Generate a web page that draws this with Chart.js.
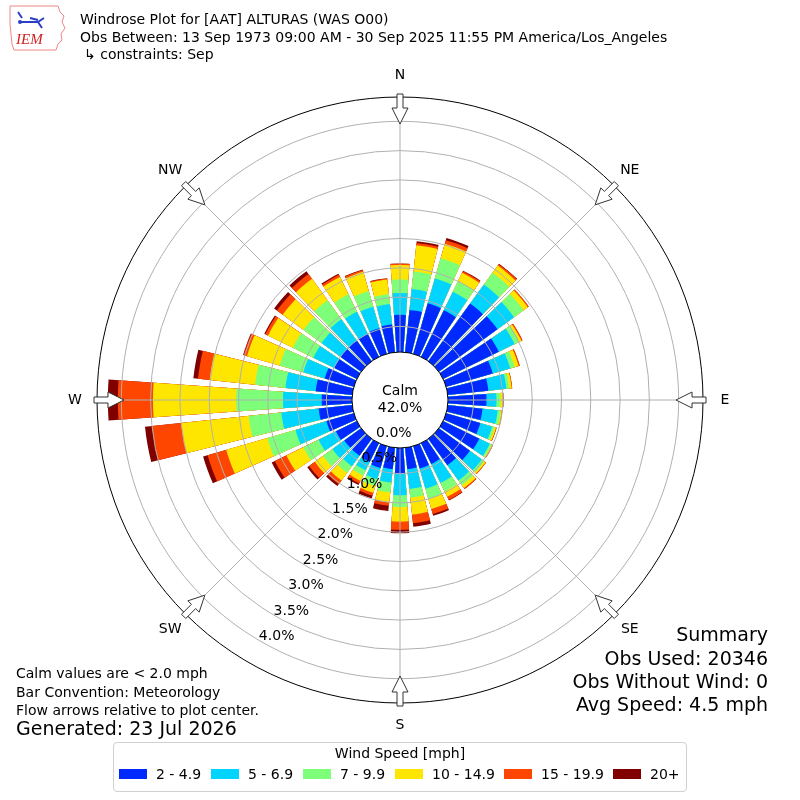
<!DOCTYPE html>
<html>
<head>
<meta charset="utf-8">
<script src="https://cdn.jsdelivr.net/npm/chart.js@4.4.1/dist/chart.umd.min.js"></script>
<style>
  html, body { margin: 0; padding: 0; background: #fff; }
  #wrap { position: relative; width: 800px; height: 800px; font-family: "DejaVu Sans", sans-serif; color: #000; overflow: hidden; }
  #wrap canvas { position: absolute; left: 0; top: 0; }
  .txt { position: absolute; white-space: nowrap; font-size: 14px; line-height: 1; }
  .big { font-size: 19px; }
  .right { text-align: right; }
  #legend { position: absolute; left: 113px; top: 742px; width: 572px; height: 48px; border: 1px solid #d0d0d0; border-radius: 4px; }
  .sw { position: absolute; width: 28px; height: 10px; }
</style>
</head>
<body>
<div id="wrap">
  <canvas id="rose" width="800" height="800"></canvas>

  <svg style="position:absolute;left:8px;top:4px" width="60" height="48" viewBox="0 0 60 48">
    <path d="M2 2 L50 2 L52 8 L56 12 L54 18 L57 24 L53 30 L54 36 L50 40 L48 46 L6 46 L4 40 L3 30 L2 20 Z" fill="none" stroke="#e88" stroke-width="1"/>
    <path d="M10 8 L14 14 M12 18 L30 18 L36 14 M30 18 L34 24 M22 14 L30 16" stroke="#2a3fc4" stroke-width="2" fill="none"/>
    <circle cx="12" cy="18" r="2" fill="#2a3fc4"/>
    <text x="8" y="40" font-family="Liberation Serif, serif" font-style="italic" font-size="15" fill="#d62020">IEM</text>
  </svg>

  <div class="txt" style="left:80px;top:12px">Windrose Plot for [AAT] ALTURAS (WAS O00)</div>
  <div class="txt" style="left:80px;top:30px">Obs Between: 13 Sep 1973 09:00 AM - 30 Sep 2025 11:55 PM America/Los_Angeles</div>
  <div class="txt" style="left:84px;top:47px">↳ constraints: Sep</div>

  <div class="txt" style="left:16px;top:666px">Calm values are &lt; 2.0 mph</div>
  <div class="txt" style="left:16px;top:685px">Bar Convention: Meteorology</div>
  <div class="txt" style="left:16px;top:703px">Flow arrows relative to plot center.</div>
  <div class="txt big" style="left:16px;top:719px">Generated: 23 Jul 2026</div>

  <div class="txt big right" style="right:32px;top:625px">Summary</div>
  <div class="txt big right" style="right:32px;top:649px">Obs Used: 20346</div>
  <div class="txt big right" style="right:32px;top:672px">Obs Without Wind: 0</div>
  <div class="txt big right" style="right:32px;top:695px">Avg Speed: 4.5 mph</div>

  <div id="legend">
    <div class="txt" style="left:0;width:572px;text-align:center;top:3px">Wind Speed [mph]</div>
  </div>
</div>

<script>
// wind direction bins (deg, direction the wind blows from)
const directions = [0, 10, 20, 30, 40, 50, 60, 70, 80, 90, 100, 110, 120, 130, 140, 150, 160, 170,
                    180, 190, 200, 210, 220, 230, 240, 250, 260, 270, 280, 290, 300, 310, 320, 330, 340, 350];
const speedBins = ['2 - 4.9', '5 - 6.9', '7 - 9.9', '10 - 14.9', '15 - 19.9', '20+'];
const binColors = ['#0029ff', '#00d4ff', '#7dff7a', '#ffe600', '#ff4600', '#800000'];

// percent of all observations, one value per direction
const pct2to5 = [0.70, 0.79, 0.96, 0.95, 1.28, 1.30, 1.12, 0.89, 0.76, 0.72, 0.66, 0.67, 0.75, 0.72, 0.62, 0.46, 0.46, 0.43,
                 0.50, 0.43, 0.45, 0.42, 0.42, 0.42, 0.46, 0.55, 0.64, 0.58, 0.69, 0.58, 0.49, 0.50, 0.50, 0.50, 0.52, 0.54];
const pct5to7 = [0.37, 0.36, 0.44, 0.35, 0.40, 0.35, 0.30, 0.31, 0.31, 0.17, 0.26, 0.21, 0.20, 0.25, 0.32, 0.36, 0.36, 0.34,
                 0.37, 0.23, 0.20, 0.16, 0.22, 0.25, 0.33, 0.55, 0.64, 0.66, 0.52, 0.38, 0.40, 0.40, 0.45, 0.42, 0.38, 0.35];
const pct7to10 = [0.23, 0.30, 0.36, 0.20, 0.25, 0.20, 0.09, 0.08, 0.05, 0.07, 0.05, 0.04, 0.03, 0.05, 0.10, 0.16, 0.18, 0.15,
                  0.20, 0.17, 0.12, 0.10, 0.14, 0.20, 0.29, 0.50, 0.56, 0.80, 0.52, 0.42, 0.39, 0.38, 0.40, 0.33, 0.28, 0.17];
const pct10to15 = [0.25, 0.45, 0.26, 0.16, 0.15, 0.09, 0.04, 0.07, 0.04, 0.04, 0.02, 0.03, 0.02, 0.03, 0.06, 0.10, 0.18, 0.29,
                   0.25, 0.17, 0.12, 0.10, 0.16, 0.17, 0.32, 0.73, 1.16, 1.42, 0.78, 0.58, 0.47, 0.44, 0.45, 0.33, 0.34, 0.25];
const pct15to20 = [0.02, 0.04, 0.06, 0.03, 0.03, 0.02, 0.02, 0.02, 0.01, 0.01, 0.01, 0.01, 0.01, 0.01, 0.02, 0.06, 0.09, 0.15,
                   0.14, 0.06, 0.05, 0.05, 0.08, 0.12, 0.22, 0.33, 0.50, 0.60, 0.20, 0.06, 0.05, 0.12, 0.10, 0.04, 0.03, 0.02];
const pct20plus = [0.005, 0.03, 0.04, 0.01, 0.01, 0, 0, 0, 0, 0, 0, 0, 0, 0, 0, 0.01, 0.03, 0.06,
                   0.06, 0.09, 0.05, 0.03, 0.04, 0.04, 0.06, 0.08, 0.12, 0.17, 0.08, 0.01, 0.02, 0.06, 0.06, 0.02, 0.01, 0.005];

const ringTicks = [0, 0.5, 1.0, 1.5, 2.0, 2.5, 3.0, 3.5, 4.0];
const compassLabels = ['N', 'NE', 'E', 'SE', 'S', 'SW', 'W', 'NW'];
const calmPct = 42.0;

// radial axis range: the negative start leaves room for the calm circle
const R_MIN = -0.756;
const R_MAX = 4.415;
const BAR_DEG = 8;
const GAP_DEG = 2;

// stack the bins: every dataset holds the running total up to its bin
const series = [pct2to5, pct5to7, pct7to10, pct10to15, pct15to20, pct20plus];
const cumulative = series.map((_, k) =>
    directions.map((d, i) => series.slice(0, k + 1).reduce((s, arr) => s + arr[i], 0)));

// each direction is a bar slice followed by an empty gap slice
const sliceLabels = directions.flatMap(d => [d + '°', '']);
const datasets = cumulative.map((vals, k) => ({
    label: speedBins[k],
    data: vals.flatMap(v => [v, R_MIN]),
    backgroundColor: ctx => ctx.dataIndex % 2 ? 'rgba(0,0,0,0)' : binColors[k],
    borderWidth: 0,
    angle: ctx => ctx.dataIndex % 2 ? GAP_DEG : BAR_DEG
}));

const toRad = deg => deg * Math.PI / 180;

const roseDecor = {
    id: 'roseDecor',
    afterDatasetsDraw(chart) {
        const r = chart.scales.r;
        const ctx = chart.ctx;
        const outer = r.getDistanceFromCenterForValue(r.max);
        ctx.save();
        ctx.strokeStyle = '#b0b0b0';
        ctx.lineWidth = 1;
        compassLabels.forEach((lab, i) => {
            const a = toRad(i * 45 - 90);
            ctx.beginPath();
            ctx.moveTo(r.xCenter, r.yCenter);
            ctx.lineTo(r.xCenter + outer * Math.cos(a), r.yCenter + outer * Math.sin(a));
            ctx.stroke();
        });
        ctx.restore();
    },
    afterDraw(chart) {
        const r = chart.scales.r;
        const ctx = chart.ctx;
        const cx = r.xCenter, cy = r.yCenter;
        const outer = r.getDistanceFromCenterForValue(r.max);
        ctx.save();

        // calm circle
        ctx.beginPath();
        ctx.arc(cx, cy, 48, 0, Math.PI * 2);
        ctx.fillStyle = '#fff';
        ctx.fill();
        ctx.strokeStyle = '#000';
        ctx.lineWidth = 1;
        ctx.stroke();
        ctx.fillStyle = '#000';
        ctx.font = '14px "DejaVu Sans"';
        ctx.textAlign = 'center';
        ctx.textBaseline = 'middle';
        ctx.fillText('Calm', cx, cy - 9);
        ctx.fillText(calmPct.toFixed(1) + '%', cx, cy + 8);

        // ring labels along the SSW direction
        const la = toRad(210 - 90);
        ringTicks.forEach(v => {
            const d = r.getDistanceFromCenterForValue(v);
            ctx.fillText(v.toFixed(1) + '%', cx + d * Math.cos(la) + 16, cy + d * Math.sin(la) - 5);
        });

        // compass arrows and labels
        compassLabels.forEach((lab, i) => {
            const a = toRad(i * 45);
            const ux = Math.sin(a), uy = -Math.cos(a);
            const px = Math.cos(a), py = Math.sin(a);
            const tip = outer - 27, base = tip + 16, tail = outer + 3;
            const pt = (rr, w) => [cx + ux * rr + px * w, cy + uy * rr + py * w];
            const pts = [pt(tip, 0), pt(base, 8), pt(base, 3), pt(tail, 3), pt(tail, -3), pt(base, -3), pt(base, -8)];
            ctx.beginPath();
            pts.forEach((p, j) => j ? ctx.lineTo(p[0], p[1]) : ctx.moveTo(p[0], p[1]));
            ctx.closePath();
            ctx.fillStyle = '#fff';
            ctx.fill();
            ctx.strokeStyle = '#333';
            ctx.lineWidth = 1;
            ctx.stroke();

            ctx.fillStyle = '#000';
            ctx.fillText(lab, cx + ux * (outer + 22), cy + uy * (outer + 22));
        });
        ctx.restore();
    }
};

new Chart(document.getElementById('rose'), {
    type: 'polarArea',
    data: { labels: sliceLabels, datasets: datasets },
    options: {
        responsive: false,
        animation: false,
        events: [],
        layout: { padding: 97 },
        plugins: { legend: { display: false }, tooltip: { enabled: false } },
        scales: {
            r: {
                min: R_MIN,
                max: R_MAX,
                startAngle: -BAR_DEG / 2,
                afterBuildTicks: scale => {
                    scale.ticks = ringTicks.concat([R_MAX]).map(v => ({ value: v }));
                },
                ticks: { display: false },
                pointLabels: { display: false },
                angleLines: { display: false },
                grid: {
                    circular: true,
                    z: 1,
                    color: ctx => ctx.tick && ctx.tick.value === R_MAX ? '#000' : '#b0b0b0',
                    lineWidth: 1
                }
            }
        }
    },
    plugins: [roseDecor]
});

// legend entries
const legend = document.getElementById('legend');
const swatchX = [5, 97, 189, 281, 390, 499];
speedBins.forEach((lab, k) => {
    const sw = document.createElement('div');
    sw.className = 'sw';
    sw.style.left = swatchX[k] + 'px';
    sw.style.top = '26px';
    sw.style.background = binColors[k];
    legend.appendChild(sw);
    const t = document.createElement('div');
    t.className = 'txt';
    t.style.left = (swatchX[k] + 37) + 'px';
    t.style.top = '24px';
    t.textContent = lab;
    legend.appendChild(t);
});
</script>
</body>
</html>
